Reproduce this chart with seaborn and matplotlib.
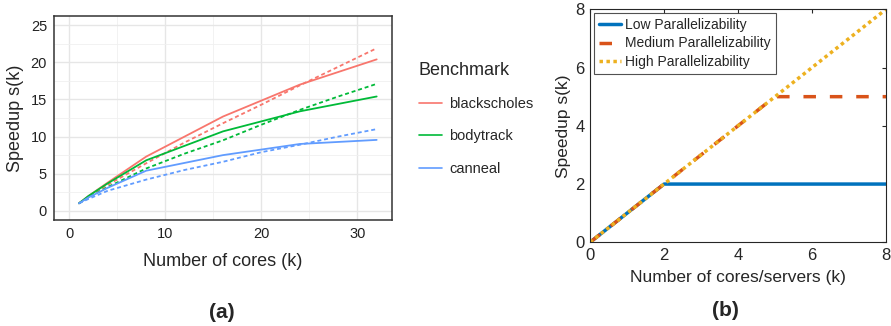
import numpy as np
import pandas as pd
import matplotlib
matplotlib.use("Agg")
import matplotlib.pyplot as plt
from matplotlib.lines import Line2D
import seaborn as sns

# ---- panel (a) data: measured (solid) and model (dotted) speedups
benchmarks = ["blackscholes", "bodytrack", "canneal"]
colors_a = ["#F8766D", "#00BA38", "#619CFF"]

cores_meas = [1, 2, 4, 8, 16, 24, 32]
meas_blackscholes = [1.0, 2.0, 3.8, 7.3, 12.7, 17.0, 20.4]
meas_bodytrack = [1.0, 2.0, 3.7, 6.8, 10.7, 13.4, 15.4]
meas_canneal = [1.0, 1.8, 3.1, 5.4, 7.5, 9.0, 9.55]

cores_model = [1, 2, 4, 8, 12, 16, 20, 24, 28, 32]
model_blackscholes = [1.0, 1.9, 3.5, 6.4, 9.2, 11.8, 14.3, 16.9, 19.4, 21.9]
model_bodytrack = [1.0, 1.8, 3.2, 5.7, 7.7, 9.5, 11.6, 13.6, 15.4, 17.1]
model_canneal = [1.0, 1.6, 2.7, 4.2, 5.5, 6.6, 7.9, 8.9, 10.0, 11.0]

# ---- panel (b) data
series_b = ["Low Parallelizability", "Medium Parallelizability", "High Parallelizability"]
colors_b = ["#0072BD", "#D95319", "#EDB120"]
k_low, s_low = [0, 2, 8], [0, 2, 2]
k_med, s_med = [0, 5, 8], [0, 5, 5]
k_high, s_high = [0, 8], [0, 8]

rows = []
for name, m, f in zip(benchmarks,
                      [meas_blackscholes, meas_bodytrack, meas_canneal],
                      [model_blackscholes, model_bodytrack, model_canneal]):
    for c, v in zip(cores_meas, m):
        rows.append((c, v, name, "measured"))
    for c, v in zip(cores_model, f):
        rows.append((c, v, name, "model"))
df_a = pd.DataFrame(rows, columns=["cores", "speedup", "benchmark", "kind"])

df_b = pd.concat([
    pd.DataFrame({"k": k_low, "s": s_low, "series": series_b[0]}),
    pd.DataFrame({"k": k_med, "s": s_med, "series": series_b[1]}),
    pd.DataFrame({"k": k_high, "s": s_high, "series": series_b[2]}),
])

sns.set_style("white")
plt.rcParams["font.family"] = ["Liberation Sans", "DejaVu Sans"]

fig = plt.figure(figsize=(8.91, 3.26), dpi=100)

# ---------------- panel (a)
ax = fig.add_axes([0.0606, 0.325, 0.3794, 0.626])
ax.set_facecolor("white")
sns.lineplot(data=df_a, x="cores", y="speedup", hue="benchmark", style="kind",
             palette=colors_a, dashes={"measured": "", "model": (2.2, 1.6)},
             linewidth=1.3, legend=False, ax=ax)
ax.set_xlim(-1.6, 33.6)
ax.set_ylim(-1.25, 26.25)
ax.set_xticks([0, 10, 20, 30])
ax.set_xticks([5, 15, 25], minor=True)
ax.set_yticks([0, 5, 10, 15, 20, 25])
ax.set_yticks(np.arange(2.5, 26, 5), minor=True)
ax.grid(True, which="major", color="#E6E6E6", linewidth=1.0)
ax.grid(True, which="minor", color="#F0F0F0", linewidth=0.6)
ax.set_axisbelow(True)
for sp in ax.spines.values():
    sp.set_color("#333333")
    sp.set_linewidth(1.1)
ax.tick_params(which="major", direction="out", length=3, width=0.8,
               color="#333333", labelsize=10.5, labelcolor="#222222", pad=2)
ax.tick_params(which="minor", length=0)
ax.set_xlabel("Number of cores (k)", fontsize=13, labelpad=9)
ax.set_ylabel("Speedup s(k)", fontsize=13, labelpad=5)

handles = [Line2D([0], [0], color=c, lw=1.2) for c in colors_a]
leg = fig.legend(handles, benchmarks, title="Benchmark", loc="upper left",
                 bbox_to_anchor=(0.455, 0.85), frameon=False, fontsize=10.5,
                 title_fontsize=13, handlelength=1.6, labelspacing=1.25,
                 handletextpad=0.5)
leg._legend_box.align = "left"

fig.text(0.249, 0.025, "(a)", ha="center", fontsize=15, fontweight="bold")

# ---------------- panel (b)
bx = fig.add_axes([0.6622, 0.2567, 0.3322, 0.7148])
styles = {series_b[0]: "", series_b[1]: (3.6, 4.0), series_b[2]: (1.0, 1.0)}
sns.lineplot(data=df_b, x="k", y="s", hue="series", style="series",
             palette=colors_b, dashes=styles, linewidth=2.5, ax=bx)
bx.set_xlim(0, 8)
bx.set_ylim(0, 8)
bx.set_xticks([0, 2, 4, 6, 8])
bx.set_yticks([0, 2, 4, 6, 8])
for sp in bx.spines.values():
    sp.set_color("#262626")
    sp.set_linewidth(0.8)
bx.tick_params(direction="in", length=3, width=0.8, top=True, right=True,
               labelsize=12, pad=4)
bx.set_xlabel("Number of cores/servers (k)", fontsize=12.5, labelpad=5)
bx.set_ylabel("Speedup s(k)", fontsize=12.5, labelpad=3)
lg = bx.legend(loc="upper left", bbox_to_anchor=(0.0, 1.0), fontsize=10,
               frameon=True, fancybox=False, edgecolor="#262626",
               handlelength=1.6, handletextpad=0.3, borderpad=0.35,
               labelspacing=0.3, borderaxespad=0.3)
lg.get_frame().set_linewidth(0.8)

fig.text(0.814, 0.03, "(b)", ha="center", fontsize=15, fontweight="bold")

fig.savefig("out.png", dpi=100)
